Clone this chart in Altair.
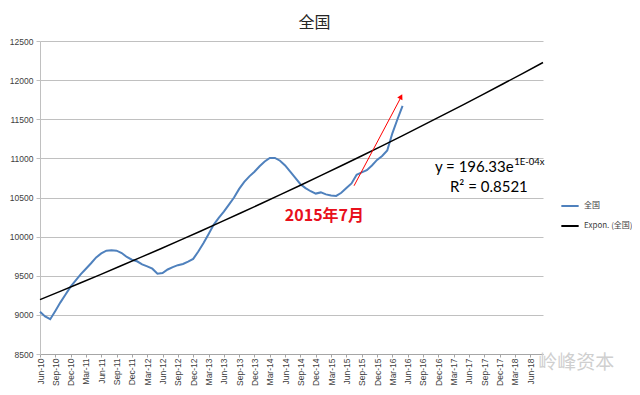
import altair as alt
import pandas as pd

# Monthly index values, Jun-10 .. May-16
values = [
    9040, 8980, 8945, 9050, 9160, 9260, 9360,            # Jun-10 .. Dec-10
    9440, 9520, 9590, 9660, 9735, 9785, 9820, 9825, 9820, 9790, 9740, 9705,   # 2011
    9685, 9645, 9620, 9590, 9525, 9535, 9580, 9610, 9635, 9650, 9680, 9715,   # 2012
    9810, 9915, 10030, 10150, 10240, 10320, 10410, 10500, 10610, 10700, 10770, 10830,  # 2013
    10900, 10960, 11005, 11005, 10970, 10910, 10830, 10750, 10670, 10620, 10580, 10550,  # 2014
    10565, 10540, 10525, 10520, 10560, 10620, 10680, 10790, 10820, 10850, 10910, 10980,  # 2015
    11030, 11100, 11320, 11500, 11670,                     # Jan-16 .. May-16
]
series_name = "全国"
trend_name = "Expon. (全国)"

tick_labels = [
    "Jun-10", "Sep-10", "Dec-10", "Mar-11", "Jun-11", "Sep-11", "Dec-11",
    "Mar-12", "Jun-12", "Sep-12", "Dec-12", "Mar-13", "Jun-13", "Sep-13",
    "Dec-13", "Mar-14", "Jun-14", "Sep-14", "Dec-14", "Mar-15", "Jun-15",
    "Sep-15", "Dec-15", "Mar-16", "Jun-16", "Sep-16", "Dec-16", "Mar-17",
    "Jun-17", "Sep-17", "Dec-17", "Mar-18", "Jun-18",
]
y_ticks = [8500, 9000, 9500, 10000, 10500, 11000, 11500, 12000, 12500]
x_max = 98.5

df = pd.DataFrame({"m": list(range(len(values))), "value": values, "series": series_name})

label_js = "[" + ",".join(f"'{l}'" for l in tick_labels) + "]"

x_enc = alt.X(
    "m:Q",
    scale=alt.Scale(domain=[0, x_max], nice=False, zero=False),
    axis=alt.Axis(
        values=[3 * i for i in range(len(tick_labels))],
        labelExpr=f"{label_js}[round(datum.value/3)]",
        labelAngle=-90, labelOverlap=False, labelFlush=False, labelBound=False,
        grid=False, ticks=True, tickSize=3,
        domainColor="#a6a6a6", tickColor="#a6a6a6",
        labelFontSize=8.5, labelColor="#404040", labelFont="Liberation Sans",
        labelPadding=1, title=None,
    ),
)
y_enc = alt.Y(
    "value:Q",
    scale=alt.Scale(domain=[8500, 12500], nice=False, zero=False),
    axis=alt.Axis(
        values=y_ticks, format="d", grid=True, gridColor="#c0c0c0",
        labelOverlap=False, labelFlush=False,
        domainColor="#c0c0c0", tickColor="#c0c0c0", tickSize=4,
        labelFontSize=8.5, labelColor="#404040", labelFont="Liberation Sans",
        labelPadding=3, title=None,
    ),
)
color_enc = alt.Color(
    "series:N",
    scale=alt.Scale(domain=[series_name, trend_name], range=["#4F81BD", "#000000"]),
    legend=alt.Legend(
        title=None, orient="none", legendX=520, legendY=155,
        symbolType="stroke", symbolStrokeWidth=2, symbolSize=300,
        labelFont="Noto Sans CJK SC", labelFontSize=8, labelColor="#404040",
        rowPadding=6,
    ),
)

blue = alt.Chart(df).mark_line(strokeWidth=2).encode(x=x_enc, y=y_enc, color=color_enc)

trend = (
    alt.Chart(df)
    .transform_regression("m", "value", method="exp", extent=[0, x_max])
    .transform_calculate(series=f"'{trend_name}'")
    .mark_line(strokeWidth=1.5)
    .encode(x=x_enc, y=y_enc, color=color_enc)
)

# Red arrow annotation
arrow_df = pd.DataFrame({"m": [61.5], "value": [10650], "m2": [70.6], "value2": [11770]})
arrow_line = alt.Chart(arrow_df).mark_rule(color="#ff0000", strokeWidth=1).encode(
    x=x_enc, y=y_enc, x2="m2:Q", y2="value2:Q"
)
head_df = pd.DataFrame({"m": [70.7], "value": [11790]})
arrow_head = alt.Chart(head_df).mark_point(
    shape="triangle-up", filled=True, size=35, angle=28, color="#ff0000", opacity=1
).encode(x=x_enc, y=y_enc)

ann_df = pd.DataFrame({"m": [55.7], "value": [10264], "text": ["2015年7月"]})
ann = alt.Chart(ann_df).mark_text(
    font="Noto Sans CJK SC", fontSize=16, fontWeight="bold", color="#e8101c",
    align="center", baseline="middle",
).encode(x=x_enc, y=y_enc, text="text:N")

eq_df = pd.DataFrame({"m": [92.75], "value": [10894], "text": ["y = 196.33e"]})
eq = alt.Chart(eq_df).mark_text(
    font="Lato", fontSize=15, color="#000000", align="right", baseline="middle"
).encode(x=x_enc, y=y_enc, text="text:N")
sup_df = pd.DataFrame({"m": [92.85], "value": [10958], "text": ["1E-04x"]})
sup = alt.Chart(sup_df).mark_text(
    font="Lato", fontSize=9.5, color="#000000", align="left", baseline="middle"
).encode(x=x_enc, y=y_enc, text="text:N")
r2_df = pd.DataFrame({"m": [87.9], "value": [10638], "text": ["R² = 0.8521"]})
r2 = alt.Chart(r2_df).mark_text(
    font="Lato", fontSize=15, color="#000000", align="center", baseline="middle"
).encode(x=x_enc, y=y_enc, text="text:N")

wm_df = pd.DataFrame({"m": [105], "value": [8389], "text": ["岭峰资本"]})
wm = alt.Chart(wm_df).mark_text(
    font="Noto Sans CJK SC", fontSize=19, color="#cfcfcf", align="center", baseline="middle"
).encode(x=x_enc, y=y_enc, text="text:N")

chart = (
    alt.layer(blue, trend, arrow_line, arrow_head, ann, eq, sup, r2, wm)
    .properties(
        width=503, height=313,
        title=alt.TitleParams(
            "全国", fontSize=16, font="Noto Sans CJK SC", fontWeight="normal",
            color="#262626", anchor="middle", dx=23, offset=6,
        ),
        padding={"left": 32, "top": 33, "right": 89, "bottom": 34},
        autosize=alt.AutoSizeParams(type="none"),
    )
    .configure_view(stroke=None)
)

chart.save("out.html", embed_options={"renderer": "svg", "actions": False})
